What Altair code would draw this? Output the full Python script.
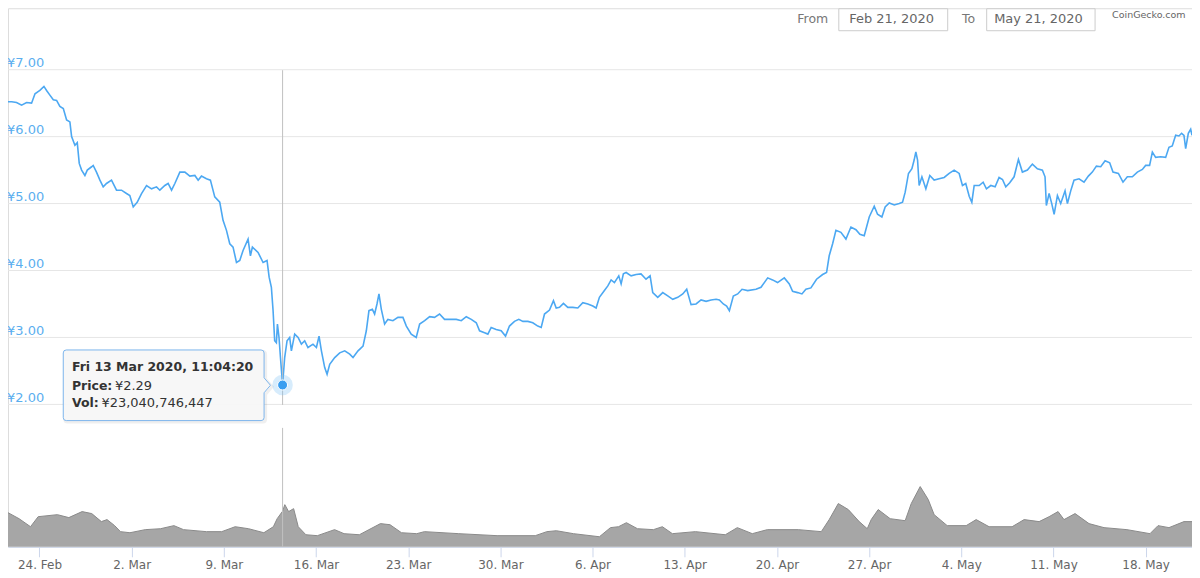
import altair as alt
import pandas as pd

# ---------------- data ----------------
# price: days since 2020-02-21 00:00 (local) and price in JPY
price_days = [
    0.61, 0.89, 1.26, 1.64, 2.02, 2.40, 2.66, 3.03, 3.34, 3.54,
    3.79, 4.05, 4.30, 4.55, 4.81, 5.06, 5.31, 5.44, 5.69, 5.87,
    6.02, 6.20, 6.45, 6.63, 6.96, 7.08, 7.33, 7.59, 7.84, 8.09,
    8.47, 8.85, 9.23, 9.61, 9.86, 10.12, 10.42, 10.75, 11.13, 11.51,
    11.89, 12.14, 12.52, 12.77, 13.03, 13.28, 13.66, 14.04, 14.42, 14.80,
    15.05, 15.30, 15.68, 15.98, 16.31, 16.69, 16.94, 17.20, 17.45, 17.70,
    17.96, 18.21,
    18.46, 18.84, 19.02, 19.17, 19.60, 19.98, 20.28, 20.44, 20.61, 20.74,
    20.86, 20.99, 21.07, 21.19, 21.30, 21.46, 21.62, 21.80, 22.00, 22.13,
    22.38, 22.64, 22.89, 23.14, 23.39, 23.77, 24.03, 24.23, 24.41, 24.66,
    24.84, 25.04, 25.42, 25.80, 26.18, 26.56, 26.81, 27.19, 27.57, 27.82,
    28.02, 28.28, 28.45, 28.63, 28.78, 28.96, 29.21, 29.46, 29.84, 30.22,
    30.60, 30.86, 31.23, 31.61, 31.87, 32.25, 32.63, 33.00, 33.38, 33.76,
    34.14, 34.65, 35.03, 35.41, 35.79, 36.17, 36.42,
    36.80, 37.05, 37.30, 37.68, 38.06, 38.39, 38.69, 39.07, 39.40, 39.71,
    40.09, 40.46, 40.84, 41.10, 41.35, 41.73, 42.03, 42.24, 42.49, 42.79,
    43.12, 43.50, 43.88, 44.26, 44.64, 45.02, 45.27, 45.52, 45.90, 46.16,
    46.41, 46.66, 46.99, 47.17, 47.34, 47.55, 47.93, 48.31, 48.68, 49.06,
    49.37, 49.57, 49.95, 50.33, 50.71, 51.09, 51.47, 51.85, 52.15, 52.48,
    52.86, 53.24, 53.62, 54.00, 54.38, 54.63,
    54.93, 55.18, 55.39, 55.69, 56.02, 56.35, 56.78, 57.41, 57.79, 58.30,
    58.67, 59.05, 59.56, 59.94, 60.19, 60.57, 60.90, 61.20, 61.58, 62.01,
    62.47, 62.77, 62.97, 63.23, 63.48, 63.86, 64.24, 64.62, 65.00, 65.30,
    65.63, 66.01, 66.39, 66.64, 66.97, 67.22, 67.53, 67.91, 68.29, 68.54,
    68.74, 68.99, 69.25, 69.42, 69.55, 69.68, 69.80, 70.01, 70.31, 70.61,
    70.94, 71.32, 71.70, 72.08, 72.46, 72.84,
    73.09, 73.34, 73.60, 73.80, 73.98, 74.36, 74.66, 74.91, 75.24, 75.57,
    75.87, 76.13, 76.38, 76.68, 77.01, 77.34, 77.64, 78.02, 78.40, 78.78,
    79.16, 79.36, 79.46, 79.67, 79.87, 80.05, 80.30, 80.55, 80.88, 81.06,
    81.31, 81.56, 81.94, 82.32, 82.65, 82.95, 83.26, 83.59, 83.92, 84.27,
    84.52, 84.93, 85.28, 85.61, 85.99, 86.37, 86.75, 87.00, 87.30, 87.51,
    87.76, 88.14, 88.52, 88.77, 89.02, 89.28, 89.53, 89.73, 89.91, 90.04,
    90.24, 90.42, 90.52,
]
price_vals = [
    6.52, 6.52, 6.51, 6.47, 6.51, 6.50, 6.64, 6.69, 6.75, 6.69,
    6.62, 6.55, 6.54, 6.45, 6.42, 6.25, 6.22, 6.00, 5.87, 5.91,
    5.60, 5.50, 5.42, 5.50, 5.55, 5.57, 5.47, 5.35, 5.25, 5.30,
    5.35, 5.20, 5.20, 5.15, 5.12, 4.95, 5.02, 5.15, 5.27, 5.22,
    5.25, 5.20, 5.27, 5.30, 5.20, 5.30, 5.47, 5.47, 5.41, 5.42,
    5.35, 5.41, 5.37, 5.35, 5.10, 5.02, 4.75, 4.60, 4.40, 4.35,
    4.12, 4.15,
    4.30, 4.47, 4.22, 4.35, 4.27, 4.12, 4.15, 3.90, 3.75, 3.40,
    2.95, 2.92, 3.20, 3.00, 2.70, 2.29, 2.70, 2.95, 3.00, 2.80,
    3.05, 3.00, 2.90, 2.95, 2.85, 2.90, 2.85, 3.02, 2.80, 2.55,
    2.45, 2.60, 2.70, 2.77, 2.80, 2.75, 2.70, 2.80, 2.87, 3.10,
    3.40, 3.42, 3.35, 3.50, 3.65, 3.42, 3.20, 3.27, 3.25, 3.30,
    3.30, 3.17, 3.05, 3.00, 3.20, 3.25, 3.31, 3.30, 3.35, 3.27,
    3.27, 3.27, 3.25, 3.31, 3.27, 3.22, 3.10,
    3.07, 3.05, 3.15, 3.12, 3.10, 3.02, 3.17, 3.24, 3.27, 3.24,
    3.24, 3.22, 3.17, 3.15, 3.35, 3.41, 3.55, 3.44, 3.45, 3.51,
    3.45, 3.45, 3.44, 3.52, 3.50, 3.47, 3.44, 3.60, 3.70, 3.77,
    3.86, 3.82, 3.92, 3.80, 3.95, 3.97, 3.92, 3.94, 3.95, 3.87,
    3.92, 3.67, 3.60, 3.67, 3.62, 3.57, 3.60, 3.65, 3.72, 3.49,
    3.50, 3.56, 3.54, 3.56, 3.57, 3.56,
    3.50, 3.47, 3.40, 3.62, 3.65, 3.72, 3.70, 3.72, 3.75, 3.89,
    3.86, 3.82, 3.89, 3.80, 3.69, 3.67, 3.65, 3.72, 3.74, 3.87,
    3.94, 3.97, 4.22, 4.40, 4.60, 4.57, 4.47, 4.65, 4.61, 4.54,
    4.52, 4.80, 4.96, 4.84, 4.80, 4.95, 5.01, 4.98, 5.00, 5.02,
    5.17, 5.45, 5.52, 5.65, 5.77, 5.65, 5.27, 5.40, 5.22, 5.42,
    5.35, 5.37, 5.39, 5.45, 5.50, 5.45,
    5.27, 5.30, 5.11, 5.02, 5.27, 5.27, 5.32, 5.22, 5.27, 5.25,
    5.39, 5.36, 5.25, 5.31, 5.40, 5.66, 5.47, 5.50, 5.59, 5.52,
    5.50, 5.40, 4.97, 5.15, 5.00, 4.84, 5.12, 5.00, 5.19, 5.00,
    5.19, 5.35, 5.37, 5.32, 5.41, 5.47, 5.56, 5.55, 5.64, 5.61,
    5.47, 5.45, 5.32, 5.40, 5.40, 5.47, 5.51, 5.57, 5.57, 5.77,
    5.69, 5.70, 5.69, 5.84, 5.86, 6.02, 6.01, 6.05, 6.02, 5.82,
    6.05, 6.11, 6.02,
]

# volume: days since 2020-02-21 and volume in billions of JPY
vol_days = [
    0.61, 1.45, 2.32, 2.90, 4.36, 5.23, 6.24, 6.97, 7.70, 8.13,
    8.71, 9.15, 9.87, 11.03, 12.19, 13.21, 13.94, 15.68, 16.84, 17.86,
    18.88, 20.04, 20.76, 21.05, 21.46, 21.63, 21.92, 22.30, 22.65, 23.23,
    24.10, 25.41, 26.13, 27.29, 28.02, 28.89, 29.62, 30.49, 31.65, 32.23,
    34.84, 37.75, 40.65, 41.53, 42.25, 43.55, 45.52, 46.36, 46.97, 47.57,
    48.41, 49.62, 50.30, 51.06, 52.81, 55.08, 55.99, 57.13, 58.27, 60.62,
    62.37, 62.97, 63.66, 64.42, 65.25, 65.86, 66.16, 66.69, 67.60, 68.74,
    69.20, 69.88, 70.49, 70.94, 71.93, 73.37, 74.13, 75.11, 76.86, 77.77,
    78.91, 79.67, 80.35, 80.80, 81.64, 82.70, 83.84, 85.58, 87.33, 87.94,
    88.77, 89.91, 90.52,
]
vol_vals = [
    22.1, 18.2, 13.0, 19.5, 20.8, 18.9, 22.8, 21.5, 16.3, 17.6,
    13.7, 9.8, 9.1, 11.1, 11.7, 13.7, 11.1, 9.8, 9.8, 13.0,
    11.7, 9.1, 13.0, 18.2, 23.04, 27.3, 22.8, 24.7, 13.0, 7.8,
    7.2, 11.1, 8.5, 7.8, 11.1, 15.0, 14.3, 9.1, 8.5, 9.8,
    8.5, 7.2, 7.2, 9.8, 10.4, 8.5, 6.5, 12.4, 13.0, 15.6,
    11.7, 11.1, 13.0, 8.5, 9.8, 7.8, 12.4, 8.5, 11.1, 11.1,
    9.8, 17.6, 28.0, 24.1, 16.3, 11.7, 17.6, 24.1, 18.2, 16.9,
    28.0, 39.0, 30.6, 20.8, 13.7, 13.7, 17.6, 13.0, 13.0, 17.6,
    16.3, 19.5, 22.8, 17.6, 21.5, 15.0, 12.4, 11.1, 8.5, 13.7,
    12.4, 16.3, 16.3,
]

y_ticks = [2, 3, 4, 5, 6, 7]
x_tick_dates = ["2020-02-24", "2020-03-02", "2020-03-09", "2020-03-16",
                "2020-03-23", "2020-03-30", "2020-04-06", "2020-04-13",
                "2020-04-20", "2020-04-27", "2020-05-04", "2020-05-11",
                "2020-05-18"]
x_domain_days = [0.61, 90.52]

hl_time = "2020-03-13T11:04:20"
hl_price = 2.29
tip_title = "Fri 13 Mar 2020, 11:04:20"
tip_price_label = "Price:"
tip_price_value = "¥2.29"
tip_vol_label = "Vol:"
tip_vol_value = "¥23,040,746,447"
from_label = "From"
from_value = "Feb 21, 2020"
to_label = "To"
to_value = "May 21, 2020"
credit = "CoinGecko.com"

# ---------------- chart ----------------
W, H = 1185, 539
FONT = "DejaVu Sans"
LINE = "#4ca8f2"
base = pd.Timestamp("2020-02-21")


def to_time(days):
    return base + pd.to_timedelta(days, unit="D")


def dt(ts):
    ts = pd.Timestamp(ts)
    return alt.DateTime(year=ts.year, month=ts.month, date=ts.day,
                        hours=ts.hour, minutes=ts.minute, seconds=ts.second)


price_df = pd.DataFrame({"t": to_time(price_days), "price": price_vals})
vol_df = pd.DataFrame({"t": to_time(vol_days), "vol": vol_vals})
grid_df = pd.DataFrame({"price": y_ticks,
                        "label": [f"¥{v:.2f}" for v in y_ticks]})
hl_df = pd.DataFrame({"t": [pd.Timestamp(hl_time)], "price": [hl_price]})
one = pd.DataFrame({"k": [0]})

x_axis = alt.Axis(values=[dt(d) for d in x_tick_dates], format="%-d. %b",
                  labelFont=FONT, labelFontSize=12, labelColor="#666666",
                  domainColor="#ccd6eb", tickColor="#ccd6eb", tickSize=10,
                  labelPadding=3, grid=False, title=None, labelFlush=False,
                  labelOverlap=False)
x_scale = alt.Scale(domain=[dt(to_time(x_domain_days[0])),
                            dt(to_time(x_domain_days[1]))])
x_enc = alt.X("t:T", scale=x_scale, axis=x_axis, title=None)

price_scale = alt.Scale(domain=[2, 7], range=[396.5, 61.5], zero=False, nice=False)
price_y = alt.Y("price:Q", scale=price_scale, axis=None)
vol_y = alt.Y("vol:Q", scale=alt.Scale(domain=[0, 77], range=[539, 420], nice=False),
              axis=None)

grid = alt.Chart(grid_df).mark_rule(color="#e6e6e6", strokeWidth=1).encode(
    y=price_y, x=alt.value(0), x2=alt.value(W))
ylab = alt.Chart(grid_df).mark_text(
    align="left", baseline="alphabetic", dy=-2.5, font=FONT, fontSize=13,
    color="#5aaeef").encode(y=price_y, x=alt.value(-1), text="label:N")

vol_area = alt.Chart(vol_df).mark_area(
    color="#a6a6a6", opacity=1,
    line={"color": "#8a8a8a", "strokeWidth": 1}).encode(x=x_enc, y=vol_y)

price_line = alt.Chart(price_df).mark_line(
    color=LINE, strokeWidth=1.6).encode(x=x_enc, y=price_y)

cross_top = alt.Chart(hl_df).mark_rule(color="#c0c0c0", strokeWidth=1).encode(
    x=x_enc, y=alt.value(62), y2=alt.value(397))
cross_bot = alt.Chart(hl_df).mark_rule(color="#c0c0c0", strokeWidth=1).encode(
    x=x_enc, y=alt.value(420), y2=alt.value(539))

halo = alt.Chart(hl_df).mark_point(
    filled=True, size=420, color="#7cc0f5", opacity=0.3).encode(x=x_enc, y=price_y)
dot = alt.Chart(hl_df).mark_point(
    filled=True, size=100, color="#3a9ef0", stroke="white", strokeWidth=1,
    opacity=1).encode(x=x_enc, y=price_y)

# tooltip callout (box with arrow), drawn as a custom symbol path
callout_path = ("M-0.97,-0.3517 L0.97,-0.3517 Q1,-0.3517 1,-0.3217 L1,-0.0746 "
                "L1.0637,0 L1,0.0746 L1,0.3217 Q1,0.3517 0.97,0.3517 "
                "L-0.97,0.3517 Q-1,0.3517 -1,0.3217 L-1,-0.3217 "
                "Q-1,-0.3517 -0.97,-0.3517 Z")
shadow = alt.Chart(one).mark_point(
    shape=callout_path, size=40401, filled=False, stroke="#000000",
    strokeWidth=3, opacity=0.06).encode(x=alt.value(157.3), y=alt.value(378.85))
callout = alt.Chart(one).mark_point(
    shape=callout_path, size=40401, filled=True, fill="#f7f7f7",
    stroke="#7cb5ec", strokeWidth=1, opacity=1, fillOpacity=0.95).encode(
    x=alt.value(155.8), y=alt.value(377.35))


def label(txt, x, y, size=13, weight="normal", color="#333333", align="left"):
    return alt.Chart(one).mark_text(
        text=txt, align=align, baseline="middle", font=FONT, fontSize=size,
        fontWeight=weight, color=color).encode(x=alt.value(x), y=alt.value(y))


tip_layers = [
    label(tip_title, 64, 359.5, size=12.5, weight="bold"),
    label(tip_price_label, 64, 377.7, size=12.5, weight="bold"),
    label(tip_price_value, 107, 377.7, size=13),
    label(tip_vol_label, 64, 395, size=12.5, weight="bold"),
    label(tip_vol_value, 93.5, 395, size=13),
]


def box(x1, x2):
    return alt.Chart(one).mark_rect(
        fill="white", stroke="#cccccc", strokeWidth=1).encode(
        x=alt.value(x1), x2=alt.value(x2), y=alt.value(0.5), y2=alt.value(22.5))


top_layers = [
    label(from_label, 790, 10.5, size=12.5, color="#777777"),
    box(831.5, 940.5),
    label(from_value, 842, 11, size=13, color="#666666"),
    label(to_label, 954.7, 10.5, size=12.5, color="#777777"),
    box(979.5, 1088),
    label(to_value, 987, 11, size=13, color="#666666"),
    label(credit, 1105, 7, size=9.5, color="#666666"),
]

chart = alt.layer(
    grid, ylab, vol_area, price_line, cross_top, cross_bot, halo, dot,
    shadow, callout, *tip_layers, *top_layers,
).resolve_scale(y="independent").properties(
    width=W, height=H,
    padding={"left": 0, "top": 0, "right": 0, "bottom": 30},
    autosize=alt.AutoSizeParams(type="none"),
).configure_view(stroke=None).configure(font=FONT, background="white")

chart.save("out.html", embed_options={"renderer": "svg", "actions": False})
